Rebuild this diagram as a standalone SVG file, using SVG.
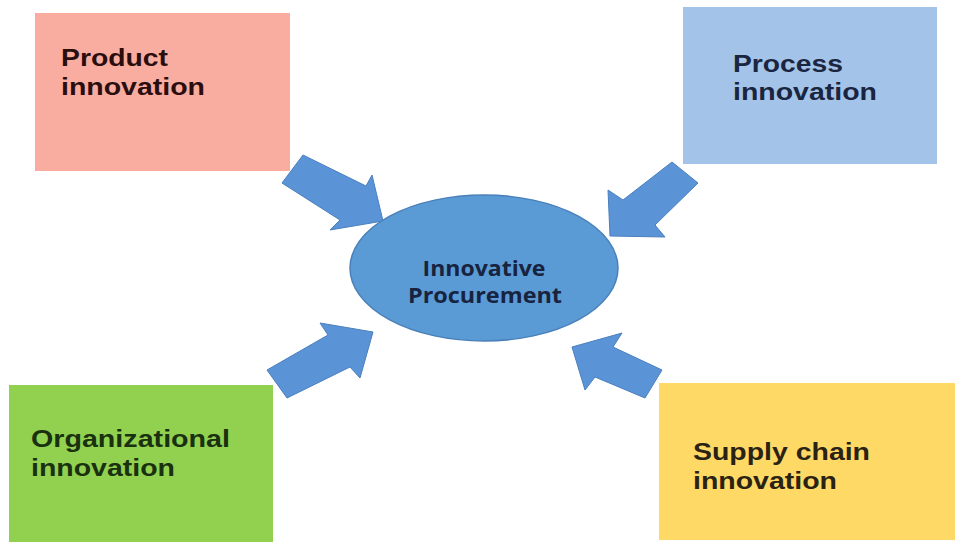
<svg xmlns="http://www.w3.org/2000/svg" width="960" height="545" viewBox="0 0 960 545">
  <style>
    .box { stroke: none; }
    .lbl { font-family: "Liberation Sans", Arial, sans-serif; font-weight: bold; font-size: 23px; }
    .core { font-family: "Open Sans", "Liberation Sans", sans-serif; font-weight: bold; font-size: 21px; fill: #17233f; text-anchor: middle; }
    .arrow { fill: #5a94d6; stroke: #4a7fbf; stroke-width: 1; stroke-linejoin: miter; }
  </style>
  <rect width="960" height="545" fill="#ffffff"/>

  <g id="product">
    <rect class="box" x="35" y="13" width="255" height="158" fill="#f9aca0"/>
    <text class="lbl" fill="#2a0e0e"><tspan x="61" y="66" textLength="107" lengthAdjust="spacingAndGlyphs">Product</tspan><tspan x="61" y="95" textLength="144" lengthAdjust="spacingAndGlyphs">innovation</tspan></text>
  </g>

  <g id="process">
    <rect class="box" x="683" y="7" width="254" height="157" fill="#a4c3e8"/>
    <text class="lbl" fill="#1a2540"><tspan x="733" y="72" textLength="110" lengthAdjust="spacingAndGlyphs">Process</tspan><tspan x="733" y="100" textLength="144" lengthAdjust="spacingAndGlyphs">innovation</tspan></text>
  </g>

  <g id="organizational">
    <rect class="box" x="9" y="385" width="264" height="157" fill="#92d050"/>
    <text class="lbl" fill="#19310f"><tspan x="31" y="447" textLength="199" lengthAdjust="spacingAndGlyphs">Organizational</tspan><tspan x="31" y="476" textLength="144" lengthAdjust="spacingAndGlyphs">innovation</tspan></text>
  </g>

  <g id="supply">
    <rect class="box" x="659" y="383" width="296" height="157" fill="#ffd966"/>
    <text class="lbl" fill="#2a2212"><tspan x="693" y="460" textLength="177" lengthAdjust="spacingAndGlyphs">Supply chain</tspan><tspan x="693" y="489" textLength="144" lengthAdjust="spacingAndGlyphs">innovation</tspan></text>
  </g>

  <g id="connectors">
    <polygon class="arrow" points="303,155 366,186 372,175 383,221 330,230 340,220 282,183"/>
    <polygon class="arrow" points="672,162 698,183 655,225 665,237 610,236 608,190 623,200"/>
    <polygon class="arrow" points="267,370 328,335 320,323 373,332 360,378 350,367 287,398"/>
    <polygon class="arrow" points="572,347 622,333 613,347 662,370 645,398 595,377 585,390"/>
  </g>

  <g id="procurement">
    <ellipse cx="484" cy="268" rx="134" ry="73" fill="#5b9bd5" stroke="#4a80b9" stroke-width="1.5"/>
    <text class="core"><tspan x="484" y="276" textLength="123" lengthAdjust="spacingAndGlyphs">Innovative</tspan><tspan x="485" y="303" textLength="154" lengthAdjust="spacingAndGlyphs">Procurement</tspan></text>
  </g>
</svg>
